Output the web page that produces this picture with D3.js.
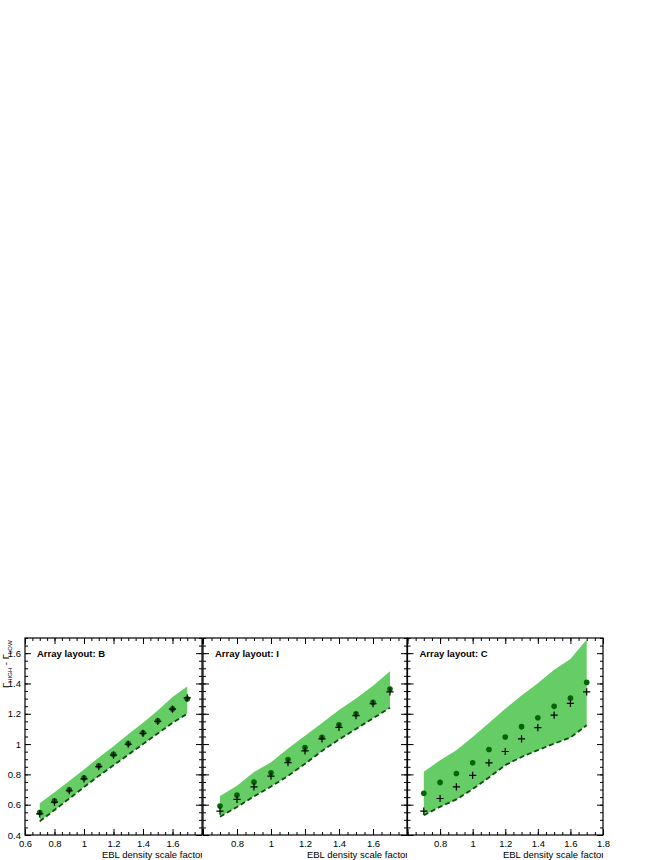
<!DOCTYPE html>
<html>
<head>
<meta charset="utf-8">
<script src="https://cdn.jsdelivr.net/npm/d3@7"></script>
<style>
  body { margin: 0; background: #fff; }
  svg { display: block; font-family: "Liberation Sans", Arial, Helvetica, sans-serif; }
</style>
</head>
<body>
<svg id="chart" width="664" height="860"></svg>
<script>
// ---------------- data ----------------
const scaleFactors = [0.7, 0.8, 0.9, 1.0, 1.1, 1.2, 1.3, 1.4, 1.5, 1.6, 1.7];
const layouts = ["B", "I", "C"];

const dotsB   = [0.548, 0.625, 0.698, 0.778, 0.857, 0.932, 1.004, 1.074, 1.153, 1.232, 1.298];
const crossB  = [0.540, 0.617, 0.692, 0.771, 0.851, 0.927, 0.999, 1.070, 1.150, 1.230, 1.305];
const upperB  = [0.610, 0.682, 0.757, 0.832, 0.912, 0.985, 1.065, 1.140, 1.222, 1.310, 1.380];
const lowerB  = [0.490, 0.565, 0.640, 0.716, 0.790, 0.860, 0.930, 1.000, 1.070, 1.140, 1.200];

const dotsI   = [0.591, 0.663, 0.749, 0.810, 0.898, 0.977, 1.045, 1.128, 1.200, 1.275, 1.363];
const crossI  = [0.558, 0.635, 0.718, 0.788, 0.878, 0.955, 1.034, 1.110, 1.188, 1.266, 1.345];
const upperI  = [0.657, 0.725, 0.815, 0.880, 0.970, 1.055, 1.139, 1.225, 1.300, 1.385, 1.480];
const lowerI  = [0.520, 0.585, 0.655, 0.720, 0.790, 0.870, 0.955, 1.030, 1.100, 1.170, 1.240];

const dotsC   = [0.676, 0.747, 0.806, 0.876, 0.964, 1.047, 1.115, 1.174, 1.249, 1.303, 1.407];
const crossC  = [0.558, 0.641, 0.718, 0.793, 0.876, 0.951, 1.034, 1.109, 1.191, 1.268, 1.345];
const upperC  = [0.818, 0.893, 0.960, 1.047, 1.139, 1.233, 1.321, 1.402, 1.490, 1.562, 1.690];
const lowerC  = [0.530, 0.586, 0.635, 0.703, 0.780, 0.861, 0.915, 0.960, 1.003, 1.043, 1.124];

const xTickValues = [0.6, 0.8, 1.0, 1.2, 1.4, 1.6, 1.8];
const yTickValues = [0.4, 0.6, 0.8, 1.0, 1.2, 1.4, 1.6];
const xDomain = [0.6, 1.8];
const yDomain = [0.4, 1.7];
const xTitle = "EBL density scale factor";
const labelPrefix = "Array layout: ";

const series = {
  B: {dots: dotsB, cross: crossB, upper: upperB, lower: lowerB},
  I: {dots: dotsI, cross: crossI, upper: upperI, lower: lowerI},
  C: {dots: dotsC, cross: crossC, upper: upperC, lower: lowerC}
};

// ---------------- layout ----------------
const svg = d3.select("#chart");
const yTop = 638, yBottom = 835;
const panelRanges = [[25, 202], [203, 407], [407.5, 603]];
const shownXLabels = [
  [0.6, 0.8, 1.0, 1.2, 1.4, 1.6],
  [0.8, 1.0, 1.2, 1.4, 1.6],
  [0.8, 1.0, 1.2, 1.4, 1.6, 1.8]
];

const y = d3.scaleLinear().domain(yDomain).range([yBottom, yTop]);
const minorY = d3.range(0, 27).map(i => +(0.4 + i * 0.05).toFixed(2)).filter(v => v <= 1.7);
const minorX = d3.range(0, 25).map(i => +(0.6 + i * 0.05).toFixed(2)).filter(v => v <= 1.8);

const fmt = v => (Math.abs(v - 1) < 1e-9 ? "1" : d3.format(".1f")(v));

svg.append("defs").selectAll("clipPath")
  .data(panelRanges).join("clipPath")
  .attr("id", (d, i) => "clip" + i)
  .append("rect")
  .attr("x", d => d[0]).attr("y", 0)
  .attr("width", d => d[1] - d[0]).attr("height", 860);

layouts.forEach((key, pi) => {
  const [x0, x1] = panelRanges[pi];
  const x = d3.scaleLinear().domain(xDomain).range([x0, x1]);
  const s = series[key];
  const g = svg.append("g");
  const rows = scaleFactors.map((f, i) => ({f, d: s.dots[i], c: s.cross[i], u: s.upper[i], l: s.lower[i]}));

  // band
  g.append("path")
    .datum(rows)
    .attr("fill", "#66cc66")
    .attr("d", d3.area().x(r => x(r.f)).y0(r => y(r.l)).y1(r => y(r.u)));

  // dashed lower edge
  g.append("path")
    .datum(rows)
    .attr("fill", "none")
    .attr("stroke", "#0a4f0a")
    .attr("stroke-width", 1.8)
    .attr("stroke-dasharray", "5,3")
    .attr("d", d3.line().x(r => x(r.f)).y(r => y(r.l)));

  // dots
  g.selectAll("circle.dot")
    .data(rows).join("circle")
    .attr("class", "dot")
    .attr("cx", r => x(r.f)).attr("cy", r => y(r.d))
    .attr("r", 2.8)
    .attr("fill", "#006400");

  // crosses
  const cs = 3.6;
  g.selectAll("path.cross")
    .data(rows).join("path")
    .attr("class", "cross")
    .attr("stroke", "#000").attr("stroke-width", 1.2).attr("fill", "none")
    .attr("d", r => {
      const cx = x(r.f), cy = y(r.c);
      return `M${cx - cs},${cy}H${cx + cs}M${cx},${cy - cs}V${cy + cs}`;
    });

  // axes (ticks inward)
  const axG = svg.append("g").attr("class", "axes");
  const styleAxis = sel => {
    sel.select(".domain").remove();
    sel.selectAll("line").attr("stroke", "#000").attr("stroke-width", 1);
  };
  axG.append("g").attr("transform", `translate(0,${yBottom})`)
    .call(d3.axisBottom(x).tickValues(xTickValues).tickSize(-6).tickSizeOuter(0).tickPadding(5)
      .tickFormat(v => shownXLabels[pi].some(t => Math.abs(t - v) < 1e-9) ? fmt(v) : ""))
    .call(styleAxis)
    .call(a => a.selectAll("text").attr("font-size", 9.5).attr("fill", "#000")
      .attr("font-family", "Liberation Sans, Arial, sans-serif"));
  axG.append("g").attr("transform", `translate(0,${yBottom})`)
    .call(d3.axisBottom(x).tickValues(minorX).tickSize(-3).tickSizeOuter(0).tickFormat(""))
    .call(styleAxis);
  axG.append("g").attr("transform", `translate(0,${yTop})`)
    .call(d3.axisTop(x).tickValues(xTickValues).tickSize(-6).tickSizeOuter(0).tickFormat(""))
    .call(styleAxis);
  axG.append("g").attr("transform", `translate(0,${yTop})`)
    .call(d3.axisTop(x).tickValues(minorX).tickSize(-3).tickSizeOuter(0).tickFormat(""))
    .call(styleAxis);
  axG.append("g").attr("transform", `translate(${x0},0)`)
    .call(d3.axisLeft(y).tickValues(yTickValues).tickSize(-6).tickSizeOuter(0).tickPadding(4)
      .tickFormat(v => pi === 0 ? fmt(v) : ""))
    .call(styleAxis)
    .call(a => a.selectAll("text").attr("font-size", 9.5).attr("fill", "#000")
      .attr("font-family", "Liberation Sans, Arial, sans-serif"));
  axG.append("g").attr("transform", `translate(${x0},0)`)
    .call(d3.axisLeft(y).tickValues(minorY).tickSize(-3).tickSizeOuter(0).tickFormat(""))
    .call(styleAxis);
  axG.append("g").attr("transform", `translate(${x1},0)`)
    .call(d3.axisRight(y).tickValues(yTickValues).tickSize(-6).tickSizeOuter(0).tickFormat(""))
    .call(styleAxis);
  axG.append("g").attr("transform", `translate(${x1},0)`)
    .call(d3.axisRight(y).tickValues(minorY).tickSize(-3).tickSizeOuter(0).tickFormat(""))
    .call(styleAxis);

  // frame
  svg.append("rect")
    .attr("x", x0).attr("y", yTop)
    .attr("width", x1 - x0).attr("height", yBottom - yTop)
    .attr("fill", "none").attr("stroke", "#000").attr("stroke-width", 1.2);

  // panel label
  svg.append("text")
    .attr("x", x0 + 12).attr("y", 657)
    .attr("font-size", 9.5).attr("font-weight", "bold").attr("fill", "#000")
    .text(labelPrefix + key);

  // x title
  svg.append("text")
    .attr("clip-path", `url(#clip${pi})`)
    .attr("x", x1 + 1.5).attr("y", 857.5)
    .attr("text-anchor", "end")
    .attr("font-size", 9.5).attr("fill", "#000")
    .text(xTitle);
});

// y-axis title
const yt = svg.append("text")
  .attr("transform", "translate(9,688) rotate(-90)")
  .attr("font-size", 9.5).attr("fill", "#000");
yt.append("tspan").text("Γ");
yt.append("tspan").attr("font-size", 6).attr("dy", 3).text("HIGH");
yt.append("tspan").attr("dy", -3).text(" - Γ");
yt.append("tspan").attr("font-size", 6).attr("dy", 3).text("LOW");
</script>
</body>
</html>
